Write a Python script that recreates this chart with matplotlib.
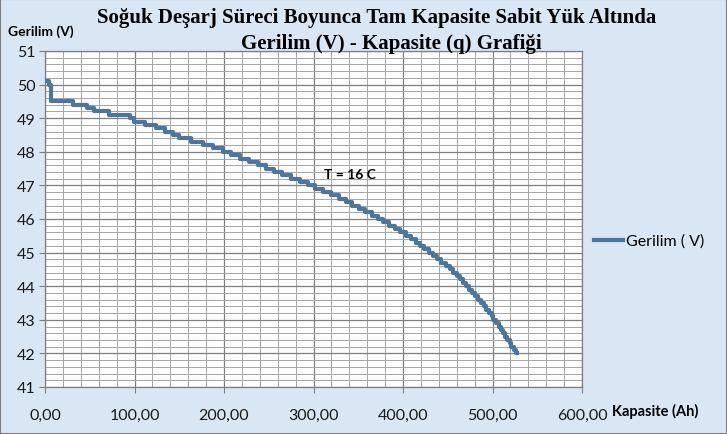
import matplotlib
matplotlib.use("Agg")
import matplotlib.pyplot as plt
from matplotlib.patches import Rectangle
from matplotlib.ticker import MultipleLocator, FuncFormatter

# capacity (Ah) where each voltage step begins
kapasite = [0, 5, 7, 31, 47, 55, 71, 95, 99, 112, 124, 134, 143, 150, 163, 176,
            188, 199, 208, 218, 228, 238, 247, 256, 265, 275, 285, 294, 302, 311,
            319, 328, 336, 343, 351, 358, 365, 372, 378, 384, 391, 397, 403, 409,
            414, 419, 424, 429, 434, 438, 443, 448, 452, 456, 460, 464, 467, 470,
            474, 477, 481, 484, 487, 490, 493, 496, 499, 501, 504, 507, 509, 512,
            514, 516, 519, 521, 524, 526, 527]
gerilim = [50.1, 50.0, 49.5, 49.4, 49.3, 49.2, 49.1, 49.0, 48.9, 48.8, 48.7, 48.6,
           48.5, 48.4, 48.3, 48.2, 48.1, 48.0, 47.9, 47.8, 47.7, 47.6, 47.5, 47.4,
           47.3, 47.2, 47.1, 47.0, 46.9, 46.8, 46.7, 46.6, 46.5, 46.4, 46.3, 46.2,
           46.1, 46.0, 45.9, 45.8, 45.7, 45.6, 45.5, 45.4, 45.3, 45.2, 45.1, 45.0,
           44.9, 44.8, 44.7, 44.6, 44.5, 44.4, 44.3, 44.2, 44.1, 44.0, 43.9, 43.8,
           43.7, 43.6, 43.5, 43.4, 43.3, 43.2, 43.1, 43.0, 42.9, 42.8, 42.7, 42.6,
           42.5, 42.4, 42.3, 42.2, 42.1, 42.0, 42.0]

title1 = "Soğuk Deşarj Süreci Boyunca Tam Kapasite Sabit Yük Altında"
title2 = "Gerilim (V) - Kapasite (q) Grafiği"

bg = "#d9e7f4"
line_col = "#4a76a4"

fig = plt.figure(figsize=(7.27, 4.35), dpi=100, facecolor=bg)
ax = fig.add_axes([45 / 727, 1 - 388 / 435, 537 / 727, 336 / 435])
ax.set_facecolor("white")

ax.plot(kapasite, gerilim, color=line_col, lw=3, drawstyle="steps-post",
        solid_joinstyle="round", label="Gerilim ( V)", zorder=3)

ax.set_xlim(0, 600)
ax.set_ylim(41, 51)
ax.xaxis.set_major_locator(MultipleLocator(100))
ax.xaxis.set_minor_locator(MultipleLocator(20))
ax.yaxis.set_major_locator(MultipleLocator(1))
ax.yaxis.set_minor_locator(MultipleLocator(0.2))
ax.xaxis.set_major_formatter(FuncFormatter(lambda v, p: f"{v:.2f}".replace(".", ",")))

ax.grid(which="major", color="#7f7f7f", lw=0.9)
ax.grid(which="minor", color="#a6a6a6", lw=0.7)
ax.set_axisbelow(True)
for s in ax.spines.values():
    s.set_color("#7f7f7f")
    s.set_linewidth(0.9)

ax.tick_params(which="major", length=4, color="#7f7f7f", labelsize=11.5,
               labelcolor="#1a1a1a")
ax.tick_params(axis="x", which="major", pad=11)
ax.tick_params(axis="y", which="major", pad=3)
ax.tick_params(which="minor", length=0)
for lab in ax.get_xticklabels() + ax.get_yticklabels():
    lab.set_family("Lato")

ax.text(312, 47.35, "T = 16 C", fontsize=10, fontweight="bold", family="Lato",
        va="center", ha="left")

fig.text(8 / 727, 1 - 32 / 435, "Gerilim (V)", fontsize=10, fontweight="bold",
         family="Lato", va="center", ha="left")
fig.text(612 / 727, 1 - 411 / 435, "Kapasite (Ah)", fontsize=10.5, fontweight="bold",
         family="Lato", va="center", ha="left")

fig.text(377 / 727, 1 - 18 / 435, title1, fontsize=15, fontweight="bold",
         family="Liberation Serif", ha="center", va="center")
fig.text(391 / 727, 1 - 44 / 435, title2, fontsize=15, fontweight="bold",
         family="Liberation Serif", ha="center", va="center")

fig.legend(loc="center left", bbox_to_anchor=(594 / 727, 1 - 242 / 435),
           frameon=False, handlelength=1.8, handletextpad=0.2, borderpad=0,
           borderaxespad=0, prop={"family": "Lato", "size": 11.5})

fig.patches.append(Rectangle((0, 0), 1, 1, transform=fig.transFigure,
                             fill=False, edgecolor="#7f7f7f", lw=1.5))

fig.savefig("out.png", dpi=100, facecolor=bg)
